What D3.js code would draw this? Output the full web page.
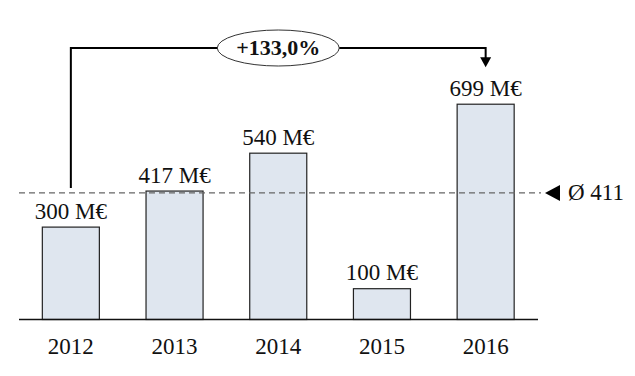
<!DOCTYPE html>
<meta charset="utf-8">
<style>
body { margin: 0; background: white; }
svg text { font-family: "Liberation Serif", "DejaVu Serif", serif; fill: #111; }
.bar { fill: #dfe6ef; stroke: #222; stroke-width: 1.2px; }
</style>
<body>
<script src="https://d3js.org/d3.v7.min.js"></script>
<script>
"use strict";

// data
var years = ["2012", "2013", "2014", "2015", "2016"];
var values = [300, 417, 540, 100, 699];
var valueLabels = ["300 M€", "417 M€", "540 M€", "100 M€", "699 M€"];
var average = 411;
var averageLabel = "Ø 411";
var growthLabel = "+133,0%";

var width = 635, height = 376;
var serif = '"Liberation Serif", "DejaVu Serif", serif';

var svg = d3.select("body").append("svg")
  .attr("width", width)
  .attr("height", height);

var x = d3.scaleBand()
  .domain(years)
  .range([19, 537.5])
  .paddingInner(0.45)
  .paddingOuter(0.225);

var y = d3.scaleLinear()
  .domain([0, 700])
  .range([319.5, 103.9]);

var data = years.map(function(d, i) {
  return { year: d, value: values[i], label: valueLabels[i] };
});

// bars
svg.selectAll(".bar")
  .data(data)
  .enter()
  .append("rect")
  .attr("class", "bar")
  .attr("x", d => x(d.year))
  .attr("y", d => y(d.value))
  .attr("width", x.bandwidth())
  .attr("height", d => y(0) - y(d.value));

// value labels
svg.selectAll(".vlabel")
  .data(data)
  .enter()
  .append("text")
  .attr("class", "vlabel")
  .attr("x", d => x(d.year) + x.bandwidth() / 2)
  .attr("y", d => y(d.value) - 8.5)
  .attr("text-anchor", "middle")
  .attr("font-family", serif)
  .style("font-size", "23px")
  .text(d => d.label);

// baseline
svg.append("line")
  .attr("x1", 19).attr("x2", 538)
  .attr("y1", y(0)).attr("y2", y(0))
  .attr("stroke", "#111")
  .attr("stroke-width", 1.3);

// x axis labels
svg.selectAll(".xlabel")
  .data(years)
  .enter()
  .append("text")
  .attr("class", "xlabel")
  .attr("x", d => x(d) + x.bandwidth() / 2)
  .attr("y", 354)
  .attr("text-anchor", "middle")
  .attr("font-family", serif)
  .style("font-size", "23px")
  .text(d => d);

// average line
svg.append("line")
  .attr("x1", 19).attr("x2", 541)
  .attr("y1", y(average)).attr("y2", y(average))
  .attr("stroke", "#666")
  .attr("stroke-width", 1.4)
  .attr("stroke-dasharray", "6,4");

var ay = y(average);
svg.append("path")
  .attr("d", "M545," + ay + "L560," + (ay - 8) + "L560," + (ay + 8) + "Z")
  .attr("fill", "#000");

svg.append("text")
  .attr("x", 568)
  .attr("y", ay + 7.5)
  .attr("font-family", serif)
  .style("font-size", "23px")
  .text(averageLabel);

// growth bracket
var x0 = x(years[0]) + x.bandwidth() / 2;
var x1 = x(years[years.length - 1]) + x.bandwidth() / 2;
var topY = 48;
var startY = y(values[0]) - 39;
var tipY = y(values[values.length - 1]) - 37;

svg.append("path")
  .attr("d", "M" + x0 + "," + startY + "V" + topY + "H" + x1 + "V" + (tipY - 9))
  .attr("fill", "none")
  .attr("stroke", "#000")
  .attr("stroke-width", 2);

svg.append("path")
  .attr("d", "M" + (x1 - 5.5) + "," + (tipY - 10) + "L" + (x1 + 5.5) + "," + (tipY - 10) + "L" + x1 + "," + tipY + "Z")
  .attr("fill", "#000");

var cx = x(years[2]) + x.bandwidth() / 2;
svg.append("ellipse")
  .attr("cx", cx).attr("cy", topY)
  .attr("rx", 61).attr("ry", 18)
  .attr("fill", "white")
  .attr("stroke", "#333")
  .attr("stroke-width", 1);

svg.append("text")
  .attr("x", cx)
  .attr("y", topY + 7)
  .attr("text-anchor", "middle")
  .attr("font-family", serif)
  .style("font-size", "22px")
  .style("font-weight", "bold")
  .text(growthLabel);
</script>
</body>
